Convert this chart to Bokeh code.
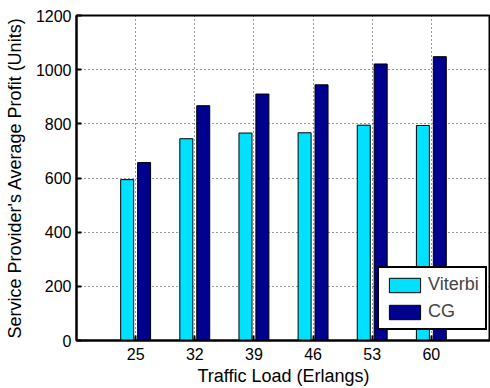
from bokeh.plotting import figure
from bokeh.models import FactorRange, Range1d, ColumnDataSource, FixedTicker, Legend, LegendItem
from bokeh.transform import dodge
from bokeh.embed import file_html
from bokeh.resources import INLINE

categories = ["25", "32", "39", "46", "53", "60"]
viterbi = [594, 745, 766, 767, 795, 794]
cg = [657, 867, 910, 944, 1021, 1048]
y_ticks = [0, 200, 400, 600, 800, 1000, 1200]

src = ColumnDataSource(dict(cat=categories, viterbi=viterbi, cg=cg))

FONT = "Liberation Sans"

p = figure(width=490, height=388, output_backend="svg", toolbar_location=None,
           x_range=FactorRange(factors=categories, range_padding=0.5, range_padding_units="absolute"),
           y_range=Range1d(0, 1200),
           min_border_left=76, min_border_right=0, min_border_top=15, min_border_bottom=46)

r1 = p.vbar(x=dodge("cat", -0.143, range=p.x_range), top="viterbi", width=0.22, source=src,
            fill_color="#00E1FF", line_color="black", line_width=1)
r2 = p.vbar(x=dodge("cat", 0.143, range=p.x_range), top="cg", width=0.22, source=src,
            fill_color="#00008F", line_color="black", line_width=1)

p.yaxis.ticker = FixedTicker(ticks=y_ticks)
p.outline_line_color = "black"
p.outline_line_width = 2
p.outline_line_alpha = 1

for ax in (p.xaxis[0], p.yaxis[0]):
    ax.axis_line_width = 2
    ax.axis_line_color = "black"
    ax.major_tick_in = 5
    ax.major_tick_out = 0
    ax.major_tick_line_width = 2
    ax.minor_tick_line_color = None
    ax.major_label_text_font = FONT
    ax.major_label_text_font_size = "16px"
    ax.major_label_text_color = "black"
    ax.axis_label_text_font = FONT
    ax.axis_label_text_font_style = "normal"
    ax.axis_label_text_color = "black"
    ax.axis_label_text_font_size = "18px"

p.xaxis.axis_label = "Traffic Load (Erlangs)"
p.yaxis.axis_label = "Service Provider's Average Profit (Units)"
p.xaxis.major_label_standoff = 7
p.xaxis.axis_label_standoff = 3
p.yaxis.major_label_standoff = 5
p.yaxis.axis_label_standoff = 8

for g in (p.xgrid[0], p.ygrid[0]):
    g.grid_line_color = "black"
    g.grid_line_alpha = 0.8
    g.grid_line_dash = "1 3"
    g.grid_line_width = 1
p.ygrid.ticker = FixedTicker(ticks=y_ticks)

legend = Legend(items=[LegendItem(label="Viterbi", renderers=[r1]), LegendItem(label="CG", renderers=[r2])],
                location=(301, 10), margin=0, padding=6, spacing=6,
                glyph_width=39, glyph_height=18, label_height=18, label_standoff=4,
                label_text_font=FONT, label_text_font_size="18px",
                border_line_color="black", border_line_width=2, border_line_alpha=1,
                background_fill_alpha=1)
p.add_layout(legend, "center")

open("out.html", "w").write(file_html(p, INLINE))
